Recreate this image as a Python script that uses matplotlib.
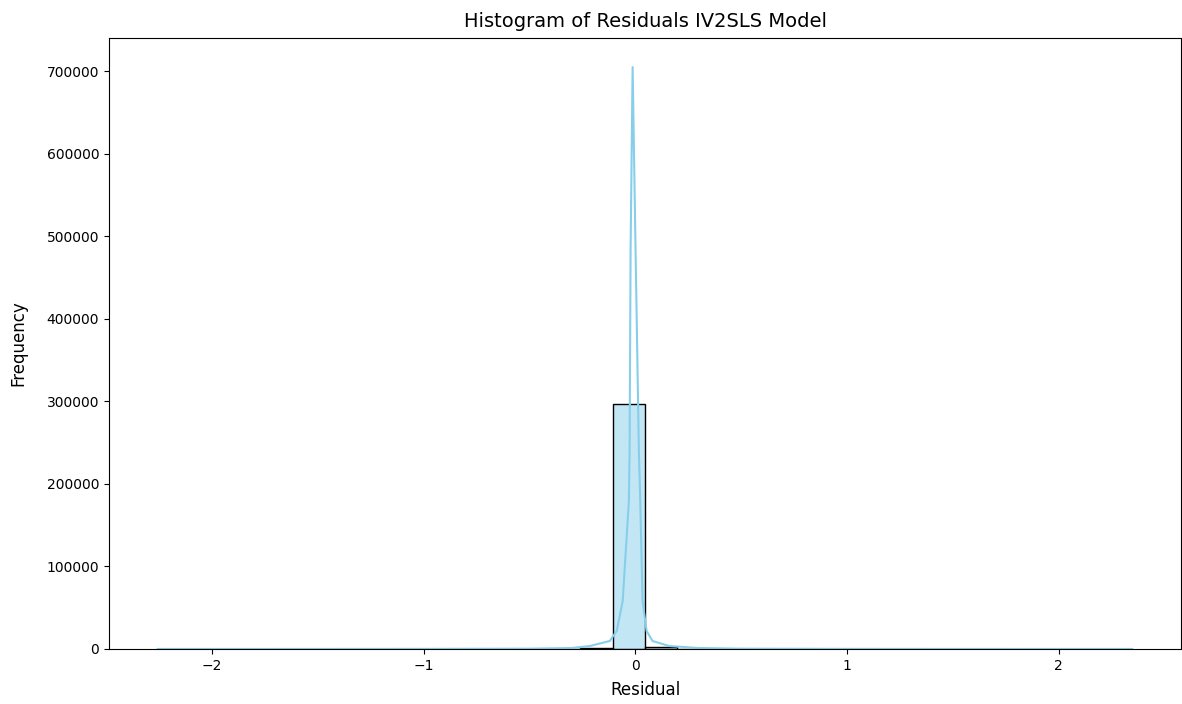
import numpy as np
import matplotlib
matplotlib.use('Agg')
import matplotlib.pyplot as plt

# ===== Data ===== #

# residual range covered by the histogram, 30 equal bins
residual_min = -2.257
residual_max = 2.348
n_bins = 30

# counts per bin, left to right
bar_counts = [2, 2, 3, 3, 4, 5, 6, 8, 10, 15, 25, 60, 250, 1000,
              297000, 2800, 300, 80, 30, 15, 10, 8, 6, 5, 4, 3, 3, 2, 2, 2]

# kde curve (scaled to counts)
kde_x = [-2.257, -1.5, -1.0, -0.5, -0.3, -0.215, -0.121, -0.088, -0.060,
         -0.0306, -0.0273, -0.0226, -0.013, 0.0009, 0.0165, 0.023, 0.034,
         0.053, 0.081, 0.16, 0.3, 0.5, 1.0, 1.5, 2.348]
kde_y = [50, 80, 150, 400, 1200, 3600, 9700, 21900, 58000,
         179600, 240300, 483000, 705000, 483000, 240300, 179600, 58000,
         21900, 9700, 3600, 1200, 400, 150, 80, 50]

# ===== Plot ===== #

fig = plt.figure(figsize=(11.82, 7.04), dpi=100)
ax = fig.add_axes([109 / 1182, 55 / 704, 1072 / 1182, 611 / 704])

edges = np.linspace(residual_min, residual_max, n_bins + 1)
centers = (edges[:-1] + edges[1:]) / 2

ax.hist(centers, bins=edges, weights=bar_counts,
        facecolor=(0.529, 0.808, 0.922, 0.5), edgecolor='black', linewidth=1)
ax.plot(kde_x, kde_y, color='skyblue', linewidth=1.5)

ax.set_title('Histogram of Residuals IV2SLS Model', fontsize=14, pad=8)
ax.set_xlabel('Residual', fontsize=12, labelpad=6)
ax.set_ylabel('Frequency', fontsize=12, labelpad=14)
ax.set_xticks([-2, -1, 0, 1, 2])
ax.set_yticks(range(0, 700001, 100000))

fig.savefig('out.png', dpi=100)
